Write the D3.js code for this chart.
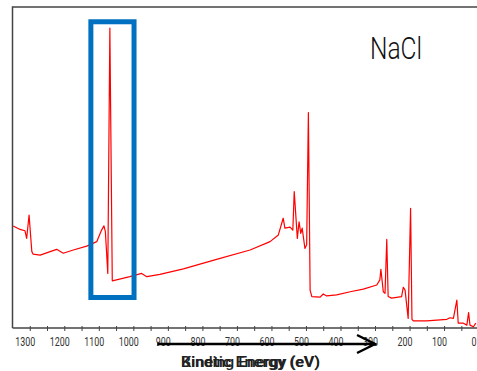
<!DOCTYPE html>
<html>
<head>
    <script src="https://d3js.org/d3.v7.min.js"></script>
    <style>
      body { margin: 0; background: #fff; }
      svg { display: block; }
    </style>
</head>
<body>
    <div id="graph"></div>
    <script>
    // spectrum (binding energy eV, counts in arbitrary units)
    const bindingEnergy = [1348, 1328, 1314, 1309, 1302, 1294, 1290, 1270, 1241, 1222, 1203, 1174, 1135, 1106,
      1092, 1085, 1081, 1074, 1068, 1061, 1010, 976, 961, 923, 855, 759, 662, 604, 580, 566, 561, 546, 538,
      534, 525, 520, 515, 511, 503, 498, 493, 488, 483, 459, 450, 440, 411, 372, 334, 295, 286, 283, 276,
      271, 266, 262, 252, 223, 218, 213, 204, 197, 193, 189, 150, 92, 83, 73, 63, 59, 44, 34, 29, 25, 15, 8];
    const intensity = [31.8, 30.7, 30.3, 27.9, 35.2, 23.8, 23.0, 22.7, 23.8, 24.5, 23.3, 24.3, 25.5, 26.9,
      30.5, 31.8, 30.0, 17.0, 93.4, 14.7, 16.0, 17.0, 16.0, 16.7, 18.4, 21.4, 24.3, 26.9, 29.0, 34.2, 31.1, 31.4, 30.5,
      42.5, 27.9, 33.1, 29.5, 31.1, 24.8, 25.9, 67.1, 11.8, 9.8, 9.6, 10.6, 10.0, 10.3, 11.3, 12.1, 13.4, 15.0, 18.3, 11.3,
      10.8, 27.6, 9.8, 9.3, 9.8, 12.7, 11.8, 3.0, 37.3, 2.7, 2.2, 2.2, 2.7, 3.2, 3.0, 8.7, 1.5, 1.5, 0.9, 4.8, 0.9, 0.4, 1.5];

    const tickValues = d3.range(1300, -1, -50);
    const labelValues = d3.range(1300, -1, -100);

    // blue box around the Na 1s peak, and the arrow under the axis
    const boxEnergy = [1123, 998];
    const boxIntensity = [95.4, 9.5];
    const arrowEnergy = [931, 300];

    const sampleName = "NaCl";
    const axisTitles = ["Binding Energy (eV)", "Kinetic Energy (eV)"];

    const width = 477, height = 371;
    const margin = { top: 7, left: 12.5, bottom: 43 };

    const x = d3.scaleLinear().domain([1350, 0]).range([margin.left, 478.6]);
    const y = d3.scaleLinear().domain([0, 100]).range([height - margin.bottom, margin.top]);

    const data = bindingEnergy.map((e, i) => ({ e: e, v: intensity[i] }));

    const svg = d3.select("#graph")
      .append("svg")
      .attr("width", width)
      .attr("height", height);

    // frame: left and top
    svg.append("path")
      .attr("d", `M${margin.left},${y(0)}V${margin.top}H${width}`)
      .attr("fill", "none")
      .attr("stroke", "#444")
      .attr("stroke-width", 1.5);

    const xAxis = svg.append("g")
      .attr("transform", `translate(0,${y(0)})`)
      .call(d3.axisBottom(x)
        .tickValues(tickValues)
        .tickSize(3)
        .tickSizeOuter(0)
        .tickFormat(d => labelValues.includes(d) ? d : ""));

    xAxis.select(".domain")
      .attr("d", `M${margin.left},0H${width}`)
      .attr("stroke", "#444")
      .attr("stroke-width", 1.5);
    xAxis.selectAll(".tick line")
      .attr("y1", -2)
      .attr("y2", 3)
      .attr("stroke", "#444");
    xAxis.selectAll(".tick text")
      .attr("dx", -5)
      .attr("y", 9)
      .style("font-family", "Roboto, sans-serif")
      .style("font-size", "12px")
      .attr("fill", "#333")
      .each(function(d) {
        const t = String(d);
        if (labelValues.includes(d)) {
          d3.select(this).attr("textLength", t.length * 5).attr("lengthAdjust", "spacingAndGlyphs");
        }
      });

    // spectrum
    svg.append("path")
      .datum(data)
      .attr("fill", "none")
      .attr("stroke", "#ff0000")
      .attr("stroke-width", 1.2)
      .attr("stroke-linejoin", "round")
      .attr("d", d3.line().x(d => x(d.e)).y(d => y(d.v)));

    svg.append("rect")
      .attr("x", x(boxEnergy[0]))
      .attr("y", y(boxIntensity[0]))
      .attr("width", x(boxEnergy[1]) - x(boxEnergy[0]))
      .attr("height", y(boxIntensity[1]) - y(boxIntensity[0]))
      .attr("fill", "none")
      .attr("stroke", "#0070c0")
      .attr("stroke-width", 5);

    svg.append("text")
      .attr("x", 370)
      .attr("y", 59)
      .attr("textLength", 52)
      .attr("lengthAdjust", "spacingAndGlyphs")
      .style("font-family", "Roboto, sans-serif")
      .style("font-weight", 300)
      .style("font-size", "31px")
      .attr("fill", "#111")
      .text(sampleName);

    // the two axis titles sit on top of each other in the original
    svg.selectAll(".axis-title")
      .data(axisTitles)
      .join("text")
      .attr("class", "axis-title")
      .attr("x", 181)
      .attr("y", 367)
      .attr("textLength", 139)
      .attr("lengthAdjust", "spacingAndGlyphs")
      .style("font-family", "Roboto, sans-serif")
      .style("font-weight", 500)
      .style("font-size", "15px")
      .attr("fill", "#222")
      .text(d => d);

    const ay = 344;
    svg.append("line")
      .attr("x1", x(arrowEnergy[0]))
      .attr("x2", x(arrowEnergy[1]))
      .attr("y1", ay)
      .attr("y2", ay)
      .attr("stroke", "#000")
      .attr("stroke-width", 2.5);
    svg.append("path")
      .attr("d", `M${x(arrowEnergy[1]) - 18},${ay - 9}L${x(arrowEnergy[1])},${ay}L${x(arrowEnergy[1]) - 18},${ay + 9}`)
      .attr("fill", "none")
      .attr("stroke", "#000")
      .attr("stroke-width", 2.5);
    </script>
</body>
</html>
